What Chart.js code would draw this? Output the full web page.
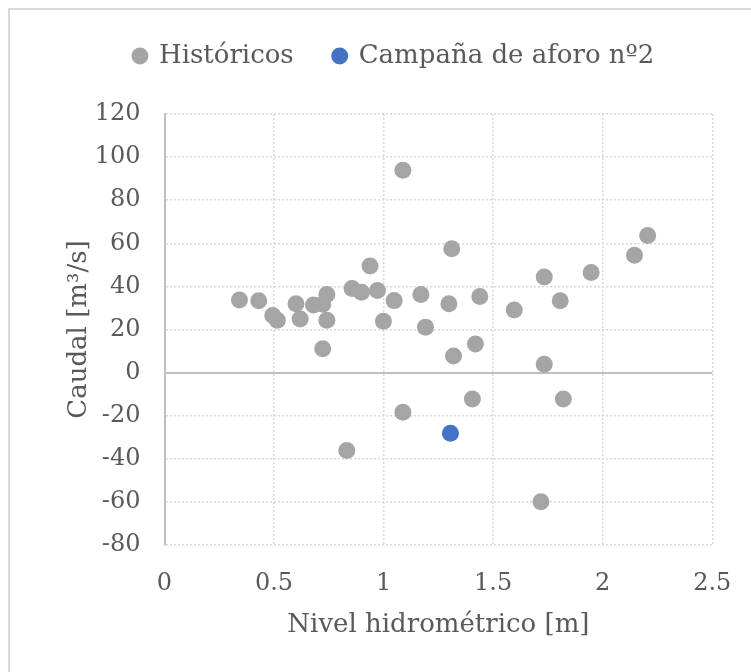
<!DOCTYPE html>
<html>
<head>
<meta charset="utf-8">
<script src="https://cdn.jsdelivr.net/npm/chart.js@4"></script>
<style>
  html, body { margin: 0; padding: 0; background: #fff; overflow: hidden; }
  #wrap { position: relative; width: 751px; height: 672px; }
  #frame { position: absolute; left: 8px; top: 8px; width: 800px; height: 720px;
           border: 2px solid #D9D9D9; box-sizing: border-box; }
  canvas { position: absolute; left: 0; top: 0; }
</style>
</head>
<body>
<div id="wrap">
  <div id="frame"></div>
  <canvas id="chart" width="751" height="672"></canvas>
</div>
<script>
// Historical gaugings: water level [m] and discharge [m³/s]
const historicLevel = [0.342, 0.43, 0.494, 0.515, 0.60, 0.619, 0.68, 0.722, 0.741, 0.741,
  0.722, 0.832, 0.856, 0.899, 0.938, 0.972, 0.999, 1.048, 1.088, 1.088,
  1.17, 1.191, 1.298, 1.311, 1.319, 1.419, 1.405, 1.439, 1.596, 1.733,
  1.733, 1.718, 1.806, 1.82, 1.947, 2.145, 2.205];
const historicFlow = [33.7, 33.3, 26.5, 24.3, 31.9, 24.9, 31.4, 31.7, 36.2, 24.3,
  11.1, -36.2, 39.0, 37.3, 49.5, 38.1, 23.8, 33.4, 93.9, -18.4,
  36.2, 21.1, 32.0, 57.5, 7.7, 13.3, -12.2, 35.3, 29.1, 44.4,
  3.9, -59.9, 33.3, -12.2, 46.4, 54.5, 63.6];

// Gauging campaign nº2
const campaignLevel = [1.305];
const campaignFlow = [-28.1];

const xTicks = [0, 0.5, 1, 1.5, 2, 2.5];
const yTicks = [-80, -60, -40, -20, 0, 20, 40, 60, 80, 100, 120];

const toPoints = (xs, ys) => xs.map((x, i) => ({ x: x, y: ys[i] }));

const FONT = "'DejaVu Serif', 'Liberation Serif', serif";
const TEXT = '#595959';
const GRID = '#D9D9D9';
const AXIS = '#BFBFBF';

// Extra space below the legend row, and a small rightward nudge of the legend
const legendGap = {
  id: 'legendGap',
  beforeInit(chart) {
    const legend = chart.legend;
    const fit = legend.fit;
    legend.fit = function () {
      fit.call(this);
      this.height += 35;
    };
    const draw = legend.draw;
    legend.draw = function () {
      const ctx = this.ctx;
      ctx.save();
      ctx.translate(6, 0);
      draw.call(this);
      ctx.restore();
    };
  }
};

new Chart(document.getElementById('chart'), {
  type: 'scatter',
  data: {
    datasets: [
      {
        label: 'Históricos',
        data: toPoints(historicLevel, historicFlow),
        backgroundColor: '#A5A5A5',
        borderColor: '#A5A5A5',
        borderWidth: 0,
        pointRadius: 8.5,
        pointHoverRadius: 8.5
      },
      {
        label: 'Campaña de aforo nº2',
        data: toPoints(campaignLevel, campaignFlow),
        backgroundColor: '#4472C4',
        borderColor: '#4472C4',
        borderWidth: 0,
        pointRadius: 8.5,
        pointHoverRadius: 8.5
      }
    ]
  },
  plugins: [legendGap],
  options: {
    responsive: false,
    animation: false,
    events: [],
    layout: { padding: { left: 64, right: 38.7, top: 3, bottom: 31 } },
    plugins: {
      tooltip: { enabled: false },
      legend: {
        position: 'top',
        align: 'center',
        labels: {
          usePointStyle: true,
          pointStyle: 'circle',
          boxWidth: 12,
          boxHeight: 12,
          padding: 40,
          color: TEXT,
          font: { family: FONT, size: 26 }
        }
      }
    },
    scales: {
      x: {
        type: 'linear',
        min: 0,
        max: 2.5,
        afterBuildTicks: (scale) => { scale.ticks = xTicks.map(v => ({ value: v })); },
        afterFit: (scale) => {
          scale.height = 96;
          scale.paddingLeft = 0;
          scale.paddingRight = 0;
        },
        ticks: {
          color: TEXT,
          padding: 24,
          font: { family: FONT, size: 24 },
          callback: (v) => String(v)
        },
        grid: { color: GRID, lineWidth: 1.5, drawTicks: false },
        border: { display: false, dash: [2, 2] },
        title: {
          display: true,
          text: 'Nivel hidrométrico [m]',
          color: TEXT,
          font: { family: FONT, size: 26 },
          padding: { top: 0, bottom: 0 }
        }
      },
      y: {
        type: 'linear',
        min: -80,
        max: 120,
        afterBuildTicks: (scale) => { scale.ticks = yTicks.map(v => ({ value: v })); },
        afterFit: (scale) => { scale.width = 100.5; },
        ticks: {
          color: TEXT,
          padding: 24,
          font: { family: FONT, size: 24 },
          callback: (v) => String(v)
        },
        grid: {
          color: (ctx) => (ctx.tick && ctx.tick.value === 0 ? AXIS : GRID),
          lineWidth: (ctx) => (ctx.tick && ctx.tick.value === 0 ? 2 : 1.5),
          drawTicks: false
        },
        border: {
          display: true,
          color: AXIS,
          width: 2,
          dash: (ctx) => (ctx.tick && ctx.tick.value === 0 ? [] : [2, 2])
        },
        title: {
          display: true,
          text: 'Caudal [m³/s]',
          color: TEXT,
          font: { family: FONT, size: 26 },
          padding: { top: 0, bottom: 4 }
        }
      }
    }
  }
});
</script>
</body>
</html>
